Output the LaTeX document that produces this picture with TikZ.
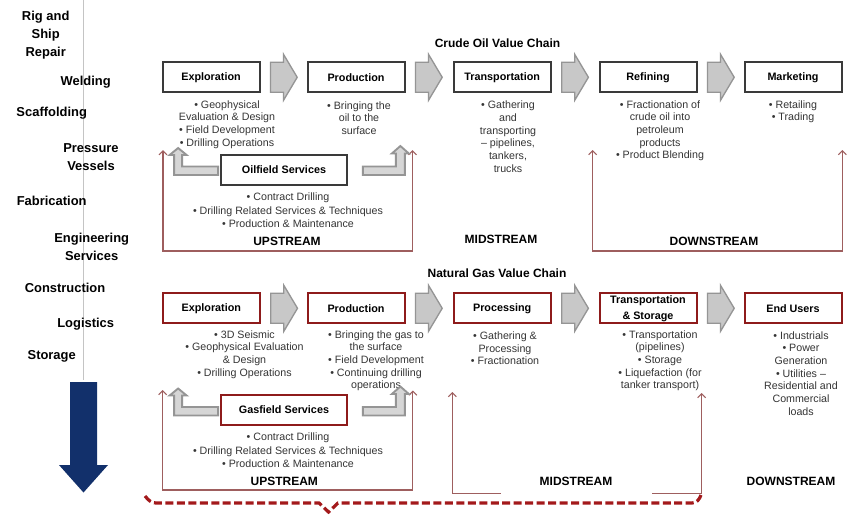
\documentclass[tikz,border=0pt]{standalone}
\usepackage{fontspec}
\setmainfont{Liberation Sans}
\setsansfont{Liberation Sans}
\usetikzlibrary{arrows.meta, positioning, calc}
\definecolor{cdark}{HTML}{3A3A3A}
\definecolor{cred}{HTML}{8E1B1B}
\definecolor{cbrace}{HTML}{A3191B}
\definecolor{cline}{HTML}{9E5E5E}
\definecolor{cgrey}{HTML}{C8C8C8}
\definecolor{cgreyd}{HTML}{959595}
\definecolor{ctext}{HTML}{353535}
\definecolor{cnavy}{HTML}{12306B}
\definecolor{cdivider}{HTML}{C4C4C4}
\tikzset{
  every picture/.style={font=\sffamily},
  stage/.style={draw=#1, fill=white, line width=1.5pt, align=center, inner sep=1pt, minimum width=72.75pt, minimum height=22.5pt, font=\sffamily\bfseries\fontsize{8.1}{9.6}\selectfont},
  stage/.default=cdark,
  service/.style={stage=#1, minimum width=94.3pt},
  service/.default=cdark,
  items/.style={align=center, text=ctext, inner sep=0pt, yshift=-1pt, font=\sffamily\fontsize{8}{9.5}\selectfont},
  streamlabel/.style={font=\sffamily\bfseries\fontsize{9}{11}\selectfont},
  chaintitle/.style={font=\sffamily\bfseries\fontsize{9}{11}\selectfont},
  sidelabel/.style={align=center, font=\sffamily\bfseries\fontsize{9.7}{13.3}\selectfont},
  flowarrow/.style={draw=cgreyd, fill=cgrey, line width=1pt},
  feedarrow/.style={draw=cgreyd, fill=cgrey!75!white, line width=1.4pt},
  bracket/.style={draw=cline, line width=0.8pt, >={Straight Barb[length=3pt, width=6pt]}},
  brace/.style={draw=cbrace, line width=2.4pt, dash pattern=on 6pt off 2.6pt},
}
\begin{document}
\begin{tikzpicture}[x=0.75pt, y=-0.75pt]
  \useasboundingbox (0,0) rectangle (850,522);
  \fill[white] (0,0) rectangle (850,522);
  \draw[cdivider, line width=0.6pt] (83.3,0) -- (83.3,380);
  \node[sidelabel] (rig) at (45.7,35) {Rig and\\Ship\\Repair};
  \node[sidelabel] (weld) at (85.7,81.7) {Welding};
  \node[sidelabel] (scaf) at (51.7,112.7) {Scaffolding};
  \node[sidelabel] (press) at (91,157) {Pressure\\Vessels};
  \node[sidelabel] (fab) at (51.7,201.3) {Fabrication};
  \node[sidelabel] (eng) at (91.7,247) {Engineering\\Services};
  \node[sidelabel] (cons) at (65,287.7) {Construction};
  \node[sidelabel] (logi) at (85.7,324.3) {Logistics};
  \node[sidelabel] (stor) at (51.7,356.7) {Storage};
  \fill[cnavy] (70,382) -- (97,382) -- (97,465) -- (108,465) -- (83.5,492.5) -- (59,465) -- (70,465) -- cycle;

  \node[chaintitle] (otitle) at (497.5,43.3) {Crude Oil Value Chain};
  \node[stage] (oexp) at (211,77.3) {Exploration};
  \node[stage] (oprod) at (356,77.3) {Production};
  \node[stage] (otrans) at (502.2,77.3) {Transportation};
  \node[stage] (oref) at (648,77.3) {Refining};
  \node[stage] (omark) at (793,77.3) {Marketing};
  \node[items] (oexpl) at (227,123) {• Geophysical\\Evaluation \& Design\\• Field Development\\• Drilling Operations};
  \node[items] (oprodl) at (359,116.7) {• Bringing the\\oil to the\\surface};
  \node[items] (otransl) at (508,135.5) {• Gathering\\and\\transporting\\– pipelines,\\tankers,\\trucks};
  \node[items] (orefl) at (660,129.3) {• Fractionation of\\crude oil into\\petroleum\\products\\• Product Blending};
  \node[items] (omarkl) at (793,110.3) {• Retailing\\• Trading};
  \node[service] (oserv) at (284,169.5) {Oilfield Services};
  \node[items, font=\sffamily\fontsize{8}{10.3}\selectfont] (oservl) at (288,209) {• Contract Drilling\\• Drilling Related Services \& Techniques\\• Production \& Maintenance};
  \node[streamlabel] (oup) at (287,241) {UPSTREAM};
  \node[streamlabel] (omid) at (501,239) {MIDSTREAM};
  \node[streamlabel] (odown) at (714,241) {DOWNSTREAM};
  \coordinate (oupL) at (163,150);
  \coordinate (oupR) at (412.5,150);
  \coordinate (odownL) at (592.7,150);
  \coordinate (odownR) at (842.3,150);
  \draw[bracket, <->] (oupL) -- ++(0,101) -| (oupR);
  \draw[bracket, <->] (odownL) -- ++(0,101) -| (odownR);

  \node[chaintitle] (gtitle) at (497,273.3) {Natural Gas Value Chain};
  \node[stage=cred] (gexp) at (211.3,308.3) {Exploration};
  \node[stage=cred] (gprod) at (356,308.3) {Production};
  \node[stage=cred] (gproc) at (502.2,308.3) {Processing};
  \node[stage=cred, font=\sffamily\bfseries\fontsize{8.1}{12}\selectfont] (gtrans) at (648,308.3) {Transportation\\\& Storage};
  \node[stage=cred] (gend) at (793,308.3) {End Users};
  \node[items] (gexpl) at (244.5,353.2) {• 3D Seismic\\• Geophysical Evaluation\\\& Design\\• Drilling Operations};
  \node[items] (gprodl) at (376,359.3) {• Bringing the gas to\\the surface\\• Field Development\\• Continuing drilling\\operations};
  \node[items] (gprocl) at (505,347) {• Gathering \&\\Processing\\• Fractionation};
  \node[items] (gtransl) at (660,359.5) {• Transportation\\(pipelines)\\• Storage\\• Liquefaction (for\\tanker transport)};
  \node[items] (gendl) at (801,372) {• Industrials\\• Power\\Generation\\• Utilities –\\Residential and\\Commercial\\loads};
  \node[service=cred] (gserv) at (284,410) {Gasfield Services};
  \node[items, font=\sffamily\fontsize{8}{10.3}\selectfont] (gservl) at (288,449) {• Contract Drilling\\• Drilling Related Services \& Techniques\\• Production \& Maintenance};
  \node[streamlabel] (gup) at (284.3,481.7) {UPSTREAM};
  \node[streamlabel] (gmid) at (576,481.7) {MIDSTREAM};
  \node[streamlabel] (gdown) at (791,481.7) {DOWNSTREAM};
  \coordinate (gupL) at (162.7,390);
  \coordinate (gupR) at (412.8,390.5);
  \coordinate (gmidL) at (452.3,392);
  \coordinate (gmidR) at (701.7,393);
  \draw[bracket, <->] (gupL) -- ++(0,100) -| (gupR);
  \draw[bracket, <-] (gmidL) -- ++(0,101.3) -- ++(48.7,0);
  \draw[bracket, <-] (gmidR) -- ++(0,100.3) -- ++(-50,0);

  \foreach \n in {oexp, oprod, otrans, oref, gexp, gprod, gproc, gtrans}
    \draw[flowarrow] ($(\n.east)+(10,-15)$) -- ++(13,0) -- ++(0,-8) -- ++(13.7,23) -- ++(-13.7,23) -- ++(0,-8) -- ++(-13,0) -- cycle;
  \foreach \n in {oserv, gserv} {
    \draw[feedarrow] ($(\n.west)+(-2,-3)$) -- ++(-36,0) -- ++(0,-11.5) -- ++(4.5,0) -- ++(-8.5,-7) -- ++(-8.5,7) -- ++(4.5,0) -- ++(0,20) -- ++(44,0) -- cycle;
    \draw[feedarrow] ($(\n.east)+(15,-3)$) -- ++(33,0) -- ++(0,-13) -- ++(-4,0) -- ++(8.5,-7.5) -- ++(8.5,7.5) -- ++(-4,0) -- ++(0,21.5) -- ++(-42,0) -- cycle;
  }
  \draw[brace] (145,496) to[out=-50,in=180] (156,503) -- (319,503) -- (328.5,512) -- (338,503) -- (692,503) to[out=0,in=-110] (701,495);
\end{tikzpicture}
\end{document}
